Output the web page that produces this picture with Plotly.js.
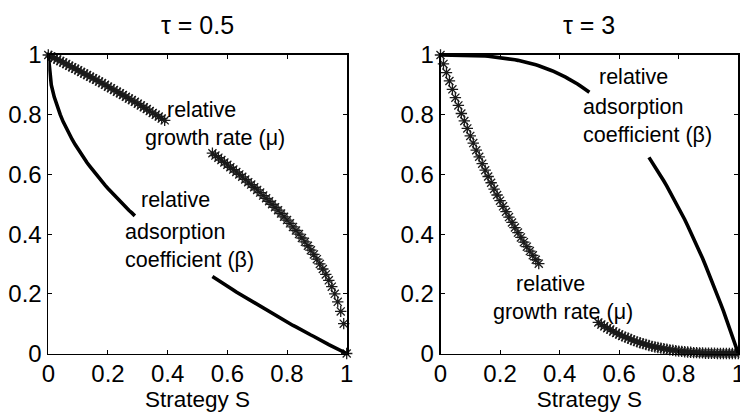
<!DOCTYPE html>
<html>
<head>
<meta charset="utf-8">
<script src="https://cdn.plot.ly/plotly-3.0.1.min.js"></script>
<style>
  html, body { margin: 0; padding: 0; background: #fff; }
  #chart { width: 740px; height: 412px; }
</style>
</head>
<body>
<div id="chart"></div>
<script>
// Strategy S grid (shared by all four curves)
const strategyS = [
  0.00,0.01,0.02,0.03,0.04,0.05,0.06,0.07,0.08,0.09,
  0.10,0.11,0.12,0.13,0.14,0.15,0.16,0.17,0.18,0.19,
  0.20,0.21,0.22,0.23,0.24,0.25,0.26,0.27,0.28,0.29,
  0.30,0.31,0.32,0.33,0.34,0.35,0.36,0.37,0.38,0.39,
  0.40,0.41,0.42,0.43,0.44,0.45,0.46,0.47,0.48,0.49,
  0.50,0.51,0.52,0.53,0.54,0.55,0.56,0.57,0.58,0.59,
  0.60,0.61,0.62,0.63,0.64,0.65,0.66,0.67,0.68,0.69,
  0.70,0.71,0.72,0.73,0.74,0.75,0.76,0.77,0.78,0.79,
  0.80,0.81,0.82,0.83,0.84,0.85,0.86,0.87,0.88,0.89,
  0.90,0.91,0.92,0.93,0.94,0.95,0.96,0.97,0.98,0.99,
  1.00
];

// tau = 0.5 : relative growth rate (mu), asterisks; null where hidden by the label
const muTau05 = [
  1.000,0.995,0.990,0.985,0.980,0.975,0.970,0.964,0.959,0.954,
  0.949,0.943,0.938,0.933,0.927,0.922,0.917,0.911,0.906,0.900,
  0.894,0.889,0.883,0.877,0.872,0.866,0.860,0.854,0.849,0.843,
  0.837,0.831,0.825,0.819,0.812,0.806,0.800,0.794,0.787,0.781,
  null,null,null,null,null,null,null,null,null,null,
  null,null,null,null,null,0.671,0.663,0.656,0.648,0.640,
  0.632,0.624,0.616,0.608,0.600,0.592,0.583,0.574,0.566,0.557,
  0.548,0.539,0.529,0.520,0.510,0.500,0.490,0.480,0.469,0.458,
  0.447,0.436,0.424,0.412,0.400,0.387,0.374,0.361,0.346,0.332,
  0.316,0.300,0.283,0.265,0.245,0.224,0.200,0.173,0.141,0.100,
  0.000
];

// tau = 0.5 : relative adsorption coefficient (beta), solid line
const betaTau05 = [
  1.000,0.900,0.859,0.827,0.800,0.776,0.755,0.735,0.717,0.700,
  0.684,0.668,0.654,0.639,0.626,0.613,0.600,0.588,0.576,0.564,
  0.553,0.542,0.531,0.520,0.510,0.500,0.490,0.480,0.471,0.461,
  null,null,null,null,null,null,null,null,null,null,
  null,null,null,null,null,null,null,null,null,null,
  null,null,null,null,null,0.258,0.252,0.245,0.238,0.232,
  0.225,0.219,0.213,0.206,0.200,0.194,0.188,0.181,0.175,0.169,
  0.163,0.157,0.151,0.146,0.140,0.134,0.128,0.123,0.117,0.111,
  0.106,0.100,0.094,0.089,0.083,0.078,0.073,0.067,0.062,0.057,
  0.051,0.046,0.041,0.036,0.030,0.025,0.020,0.015,0.010,0.005,
  0.000
];

// tau = 3 : relative growth rate (mu), asterisks
const muTau3 = [
  1.000,0.970,0.941,0.913,0.885,0.857,0.831,0.804,0.779,0.754,
  0.729,0.705,0.681,0.659,0.636,0.614,0.593,0.572,0.551,0.531,
  0.512,0.493,0.475,0.457,0.439,0.422,0.405,0.389,0.373,0.358,
  0.343,0.329,0.314,0.301,null,null,null,null,null,null,
  null,null,null,null,null,null,null,null,null,null,
  null,null,null,0.104,0.097,0.091,0.085,0.080,0.074,0.069,
  0.064,0.059,0.055,0.051,0.047,0.043,0.039,0.036,0.033,0.030,
  0.027,0.024,0.022,0.020,0.018,0.016,0.014,0.012,0.011,0.009,
  0.008,0.007,0.006,0.005,0.004,0.003,0.003,0.002,0.002,0.001,
  0.001,0.001,0.001,0.000,0.000,0.000,0.000,0.000,0.000,0.000,
  0.000
];

// tau = 3 : relative adsorption coefficient (beta), solid line
const betaTau3 = [
  1.000,1.000,1.000,1.000,1.000,1.000,1.000,1.000,0.999,0.999,
  0.999,0.999,0.998,0.998,0.997,0.997,0.996,0.995,0.994,0.993,
  0.992,0.991,0.989,0.988,0.986,0.984,0.982,0.980,0.978,0.976,
  0.973,0.970,0.967,0.964,0.961,0.957,0.953,0.949,0.945,0.941,
  0.936,0.931,0.926,0.920,0.915,0.909,0.903,0.896,0.889,0.882,
  0.875,null,null,null,null,null,null,null,null,null,
  null,null,null,null,null,null,null,null,null,null,
  0.657,0.642,0.627,0.611,0.595,0.578,0.561,0.543,0.525,0.507,
  0.488,0.469,0.449,0.428,0.407,0.386,0.364,0.341,0.319,0.295,
  0.271,0.246,0.221,0.196,0.169,0.143,0.115,0.087,0.059,0.030,
  0.000
];

const tickVals = [0, 0.2, 0.4, 0.6, 0.8, 1];
const tickText = ['0', '0.2', '0.4', '0.6', '0.8', '1'];
const panelTitles = ['\u03c4 = 0.5', '\u03c4 = 3'];
const xTitle = 'Strategy S';

const W = 740, H = 412;
const FONT = 'Liberation Sans, Arial, Helvetica, sans-serif';
const px = v => v / W;
const py = v => (H - v) / H;

const asteriskMarker = {
  symbol: 'asterisk', size: 9.5, color: '#1a1a1a',
  line: { color: '#1a1a1a', width: 1.3 }
};

const traces = [
  { x: strategyS, y: muTau05, xaxis: 'x', yaxis: 'y', mode: 'markers',
    marker: asteriskMarker, cliponaxis: false },
  { x: strategyS, y: betaTau05, xaxis: 'x', yaxis: 'y', mode: 'lines',
    line: { color: '#000', width: 3.6 }, connectgaps: false, cliponaxis: false },
  { x: strategyS, y: muTau3, xaxis: 'x2', yaxis: 'y2', mode: 'markers',
    marker: asteriskMarker, cliponaxis: false },
  { x: strategyS, y: betaTau3, xaxis: 'x2', yaxis: 'y2', mode: 'lines',
    line: { color: '#000', width: 3.6 }, connectgaps: false, cliponaxis: false }
];

const axisCommon = {
  range: [0, 1], tickmode: 'array', tickvals: tickVals, ticktext: tickText,
  ticks: 'inside', ticklen: 4, tickwidth: 1, tickcolor: '#000',
  showline: true, linecolor: '#000', linewidth: 1.8, mirror: 'ticks',
  showgrid: false, zeroline: false, automargin: false, fixedrange: true,
  ticklabeloverflow: 'allow',
  tickfont: { family: FONT, size: 24, color: '#000' }
};

const xAxisExtra = { ticklabelstandoff: -2 };
const yDomain = [py(353.5), py(55)];

const labelFont = { family: FONT, size: 21.5, color: '#000' };
function lab(text, left, center) {
  return { text: text, xref: 'paper', yref: 'paper', x: px(left - 4), y: py(center),
    xanchor: 'left', yanchor: 'middle', showarrow: false, font: labelFont };
}

const annotations = [
  { text: panelTitles[0], xref: 'paper', yref: 'paper', x: px(197.5), y: py(25),
    xanchor: 'center', yanchor: 'middle', showarrow: false,
    font: { family: FONT, size: 25, color: '#000' } },
  { text: panelTitles[1], xref: 'paper', yref: 'paper', x: px(589.4), y: py(25),
    xanchor: 'center', yanchor: 'middle', showarrow: false,
    font: { family: FONT, size: 25, color: '#000' } },
  lab('relative', 169, 110),
  lab('growth rate (\u03bc)', 147, 138),
  lab('relative', 143, 200),
  lab('adsorption', 127, 232),
  lab('coefficient (\u03b2)', 127, 260),
  lab('relative', 601, 77),
  lab('adsorption', 585, 107),
  lab('coefficient (\u03b2)', 585, 135),
  lab('relative', 518, 284),
  lab('growth rate (\u03bc)', 495, 312)
];

const xTitleObj = { text: xTitle, font: { family: FONT, size: 22.5, color: '#000' }, standoff: 5 };

const layout = {
  width: W, height: H,
  margin: { l: 0, r: 0, t: 0, b: 0, pad: 0 },
  paper_bgcolor: '#fff', plot_bgcolor: '#fff',
  showlegend: false,
  font: { family: FONT, color: '#000' },
  xaxis: Object.assign({}, axisCommon, xAxisExtra, { domain: [px(48.3), px(346.7)], anchor: 'y',
    title: xTitleObj }),
  yaxis: Object.assign({}, axisCommon, { domain: yDomain, anchor: 'x' }),
  xaxis2: Object.assign({}, axisCommon, xAxisExtra, { domain: [px(440.5), px(738.3)], anchor: 'y2',
    title: xTitleObj }),
  yaxis2: Object.assign({}, axisCommon, { domain: yDomain, anchor: 'x2' }),
  annotations: annotations
};

Plotly.newPlot('chart', traces, layout, { staticPlot: true, displayModeBar: false });
</script>
</body>
</html>
